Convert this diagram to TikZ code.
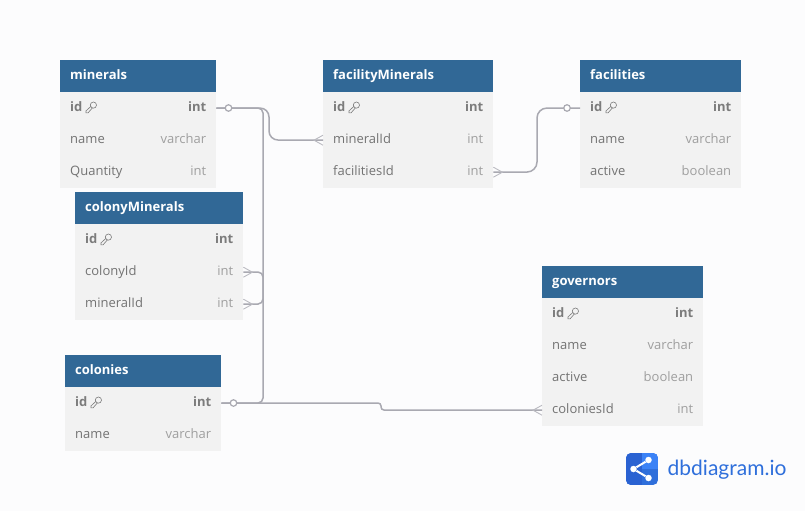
\documentclass[tikz,border=0pt]{standalone}
\usepackage{fontspec}
\setmainfont{Open Sans}
\newfontfamily\logofont{Lato}
\definecolor{pagebg}{HTML}{FCFCFD}
\definecolor{headblue}{HTML}{316896}
\definecolor{rowgray}{HTML}{F2F2F2}
\definecolor{namegray}{HTML}{737373}
\definecolor{typegray}{HTML}{9F9F9F}
\definecolor{idgray}{HTML}{7C7C7C}
\definecolor{relgray}{HTML}{A9A9B1}
\definecolor{logoblue}{HTML}{2F6FDB}
\definecolor{logodark}{HTML}{2A62D2}
\definecolor{logolight}{HTML}{3B82F6}
\newcommand{\typetxt}[1]{\textcolor{typegray}{#1}}
\newcommand{\idtxt}[1]{\textcolor{idgray}{\bfseries #1}}
\tikzset{
  headcell/.style={anchor=north west,fill=headblue,text=white,inner xsep=10pt,inner ysep=0pt,minimum height=32pt,text height=10pt,text depth=3pt,font=\fontsize{13}{15}\selectfont\bfseries},
  rowcell/.style={anchor=north west,fill=rowgray,text=namegray,inner xsep=10pt,inner ysep=0pt,minimum height=32pt,text height=10pt,text depth=3pt,font=\fontsize{13}{15}\selectfont},
  relline/.style={draw=relgray,line width=1.5pt},
  crowline/.style={draw=relgray!80,line width=.9pt},
  zeroend/.style={circle,draw=relgray,fill=white,line width=1.2pt,inner sep=0pt,minimum size=6.5pt},
  sharedot/.style={circle,fill=white,inner sep=0pt,minimum size=6.5pt},
  keyicon/.pic={
    \draw[idgray,line width=.6pt] (2.4,-2.4) circle[radius=3.1];
    \draw[idgray,line width=.6pt] (.2,-1.4) -- (-5,3.4) -- (-5,5.4) -- (-3,5.4) -- (1.4,.4);
  }
}
\begin{document}
\begin{tikzpicture}[x=1pt,y=-1pt]
\useasboundingbox[fill=pagebg] (0,0) rectangle (805,511);
% minerals
\node[headcell,text width=136pt] (mineralsHead) at (60,60) {minerals};
\node[rowcell,text width=136pt] (mineralsId) at (60,92) {\idtxt{id}\hfill\idtxt{int}};
\node[rowcell,text width=136pt] (mineralsName) at (60,124) {name\hfill\typetxt{varchar}};
\node[rowcell,text width=136pt] (mineralsQuantity) at (60,156) {Quantity\hfill\typetxt{int}};
\pic at (91,107.5) {keyicon};
% facilityMinerals
\node[headcell,text width=150pt] (facilityMineralsHead) at (323,60) {facilityMinerals};
\node[rowcell,text width=150pt] (facilityMineralsId) at (323,92) {\idtxt{id}\hfill\idtxt{int}};
\node[rowcell,text width=150pt] (facilityMineralsMineralId) at (323,124) {mineralId\hfill\typetxt{int}};
\node[rowcell,text width=150pt] (facilityMineralsFacilitiesId) at (323,156) {facilitiesId\hfill\typetxt{int}};
\pic at (354,107.5) {keyicon};
% facilities
\node[headcell,text width=141pt] (facilitiesHead) at (580,60) {facilities};
\node[rowcell,text width=141pt] (facilitiesId) at (580,92) {\idtxt{id}\hfill\idtxt{int}};
\node[rowcell,text width=141pt] (facilitiesName) at (580,124) {name\hfill\typetxt{varchar}};
\node[rowcell,text width=141pt] (facilitiesActive) at (580,156) {active\hfill\typetxt{boolean}};
\pic at (611,107.5) {keyicon};
% colonyMinerals
\node[headcell,text width=148pt] (colonyMineralsHead) at (75,192) {colonyMinerals};
\node[rowcell,text width=148pt] (colonyMineralsId) at (75,224) {\idtxt{id}\hfill\idtxt{int}};
\node[rowcell,text width=148pt] (colonyMineralsColonyId) at (75,256) {colonyId\hfill\typetxt{int}};
\node[rowcell,text width=148pt] (colonyMineralsMineralId) at (75,288) {mineralId\hfill\typetxt{int}};
\pic at (106,239.5) {keyicon};
% colonies
\node[headcell,text width=136pt] (coloniesHead) at (65,355) {colonies};
\node[rowcell,text width=136pt] (coloniesId) at (65,387) {\idtxt{id}\hfill\idtxt{int}};
\node[rowcell,text width=136pt] (coloniesName) at (65,419) {name\hfill\typetxt{varchar}};
\pic at (96,402.5) {keyicon};
% governors
\node[headcell,text width=141pt] (governorsHead) at (542,266) {governors};
\node[rowcell,text width=141pt] (governorsId) at (542,298) {\idtxt{id}\hfill\idtxt{int}};
\node[rowcell,text width=141pt] (governorsName) at (542,330) {name\hfill\typetxt{varchar}};
\node[rowcell,text width=141pt] (governorsActive) at (542,362) {active\hfill\typetxt{boolean}};
\node[rowcell,text width=141pt] (governorsColoniesId) at (542,394) {coloniesId\hfill\typetxt{int}};
\pic at (573,313.5) {keyicon};
% relations
\draw[relline,rounded corners=9pt] (mineralsId.east) -- (269,108) -- (269,140) -- (facilityMineralsMineralId.west);
\draw[relline,rounded corners=5pt] (mineralsId.east) -- (263,108) -- (263,304) -- (colonyMineralsMineralId.east);
\draw[relline,rounded corners=5pt] (coloniesId.east) -- (263,403) -- (263,272) -- (colonyMineralsColonyId.east);
\draw[relline,rounded corners=3pt] (coloniesId.east) -- (381,403) -- (381,410) -- (governorsColoniesId.west);
\draw[relline,rounded corners=10pt] (facilityMineralsFacilitiesId.east) -- (537,172) -- (537,108) -- (facilitiesId.west);
\node[zeroend] (mineralsZero) at (228.5,108) {};
\node[zeroend] (coloniesZero) at (233.5,403) {};
\node[zeroend] (facilitiesZero) at (567,108) {};
\draw[crowline] (facilityMineralsMineralId.west) ++(0,-5) -- ++(-9,5) -- ++(9,5);
\draw[crowline] (governorsColoniesId.west) ++(0,-5) -- ++(-9,5) -- ++(9,5);
\draw[crowline] (facilityMineralsFacilitiesId.east) ++(0,-5) -- ++(9,5) -- ++(-9,5);
\draw[crowline] (colonyMineralsColonyId.east) ++(0,-5) -- ++(9,5) -- ++(-9,5);
\draw[crowline] (colonyMineralsMineralId.east) ++(0,-5) -- ++(9,5) -- ++(-9,5);
% logo
\begin{scope}
\clip[rounded corners=5pt] (626,453) rectangle (658,485);
\fill[logoblue] (626,453) rectangle (658,485);
\fill[logolight] (642,453) rectangle (658,469);
\fill[logodark] (626,453) rectangle (642,485);
\end{scope}
\node[sharedot] (logoLeft) at (633.5,469) {};
\node[sharedot] (logoTop) at (648.5,460) {};
\node[sharedot] (logoBottom) at (648.5,478) {};
\draw[white,line width=2pt] (logoTop) -- (logoLeft) -- (logoBottom);
\node[anchor=west,inner sep=0pt,text=logoblue,font=\logofont\fontsize{21}{24}\selectfont] (logoText) at (667.5,469.5) {dbdiagram.io};
\end{tikzpicture}
\end{document}
